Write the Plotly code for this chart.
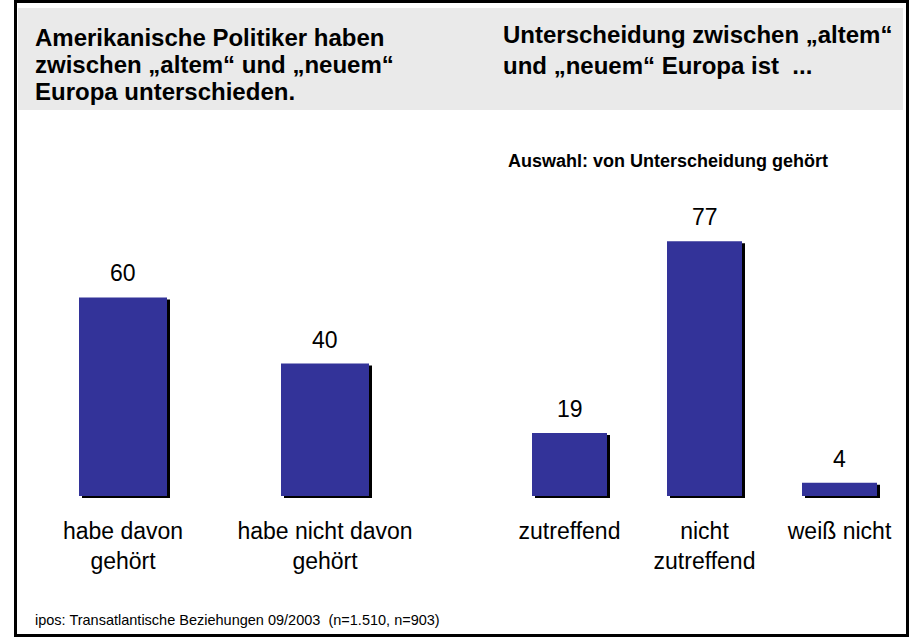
import plotly.graph_objects as go

W, H = 910, 637
FONT = "Liberation Sans, Arial, sans-serif"
BLUE = "#333399"
GREY = "#EAEAEA"

# ---------------- data ----------------
left_categories = ["habe davon<br>gehört", "habe nicht davon<br>gehört"]
left_values = [60, 40]

right_categories = ["zutreffend", "nicht<br>zutreffend", "weiß nicht"]
right_values = [19, 77, 4]

title_left = ["Amerikanische Politiker haben",
              "zwischen „altem“ und „neuem“",
              "Europa unterschieden."]
title_right = ["Unterscheidung zwischen „altem“",
               "und „neuem“ Europa ist  ..."]
subtitle_right = "Auswahl: von Unterscheidung gehört"
footer = "ipos: Transatlantische Beziehungen 09/2003  (n=1.510, n=903)"

# ---------------- geometry helpers ----------------
def px_x(p):
    return p / W

def px_y(p):
    return 1 - p / H

BASE_PX = 496.0      # pixel row of the value 0
K = 3.31             # pixels per percentage point
YMIN, YMAX = -2, 100
y_dom = [px_y(BASE_PX - K * YMIN), px_y(BASE_PX - K * YMAX)]

left_dom = [px_x(22), px_x(426)]
left_unit = (426 - 22) / 2.0
right_dom = [px_x(502), px_x(907)]
right_unit = (907 - 502) / 3.0

left_w = 88 / left_unit
right_w = 75 / right_unit
SH_DX, SH_DY = 3, 2   # shadow offset in px

fig = go.Figure()

def add_bars(values, xa, ya, width, unit):
    xs = list(range(len(values)))
    # shadow
    fig.add_trace(go.Bar(
        x=xs, y=values, base=-SH_DY / K, width=width,
        offset=-width / 2 + SH_DX / unit,
        marker=dict(color="black", line=dict(width=0)),
        xaxis=xa, yaxis=ya, hoverinfo="skip", showlegend=False))
    # main bar
    fig.add_trace(go.Bar(
        x=xs, y=values, width=width,
        marker=dict(color=BLUE, line=dict(width=0)),
        xaxis=xa, yaxis=ya, showlegend=False))
    for i, v in enumerate(values):
        fig.add_annotation(
            x=i, y=v, xref=xa, yref=ya, text=str(v), showarrow=False,
            yanchor="bottom", xanchor="center", yshift=9,
            font=dict(family=FONT, size=23, color="black"))

add_bars(left_values, "x", "y", left_w, left_unit)
add_bars(right_values, "x2", "y2", right_w, right_unit)

axis_common = dict(showgrid=False, zeroline=False, showline=False, ticks="",
                   fixedrange=True)
fig.update_layout(
    width=W, height=H,
    margin=dict(l=0, r=0, t=0, b=0),
    paper_bgcolor="white", plot_bgcolor="rgba(0,0,0,0)",
    barmode="overlay",
    showlegend=False,
    font=dict(family=FONT, color="black"),
    xaxis=dict(domain=left_dom, range=[-0.5, 1.5], tickvals=[0, 1],
               ticktext=left_categories, tickfont=dict(size=23),
               ticklabelstandoff=12, anchor="y", **axis_common),
    yaxis=dict(domain=y_dom, range=[YMIN, YMAX], visible=False, anchor="x"),
    xaxis2=dict(domain=right_dom, range=[-0.5, 2.5], tickvals=[0, 1, 2],
                ticktext=right_categories, tickfont=dict(size=23),
                ticklabelstandoff=12, anchor="y2", **axis_common),
    yaxis2=dict(domain=y_dom, range=[YMIN, YMAX], visible=False, anchor="x2"),
)

# header band and frame
fig.add_shape(type="rect", xref="paper", yref="paper",
              x0=px_x(18), x1=px_x(903), y0=px_y(110), y1=px_y(8),
              fillcolor=GREY, line=dict(width=0), layer="below")
fig.add_shape(type="rect", xref="paper", yref="paper",
              x0=px_x(15.5), x1=px_x(907.5), y0=px_y(635.5), y1=px_y(1.5),
              fillcolor="rgba(0,0,0,0)", line=dict(color="black", width=3),
              layer="above")

def text_line(txt, x_px, base_px, size, bold=False):
    fig.add_annotation(
        xref="paper", yref="paper", x=px_x(x_px), y=px_y(base_px - 0.34 * size),
        xanchor="left", yanchor="middle", showarrow=False, align="left",
        text=("<b>%s</b>" % txt) if bold else txt,
        font=dict(family=FONT, size=size, color="black"))

for i, line in enumerate(title_left):
    text_line(line, 33, 46 + 27 * i, 24, bold=True)
for i, line in enumerate(title_right):
    text_line(line, 501, 43 + 31 * i, 24, bold=True)
text_line(subtitle_right, 506, 167, 18, bold=True)
text_line(footer, 33, 625, 14.5)

fig.write_html(
    "out.html",
    config={"displayModeBar": False, "staticPlot": True},
    post_script="document.body.style.margin='0';document.body.style.overflow='hidden';")
